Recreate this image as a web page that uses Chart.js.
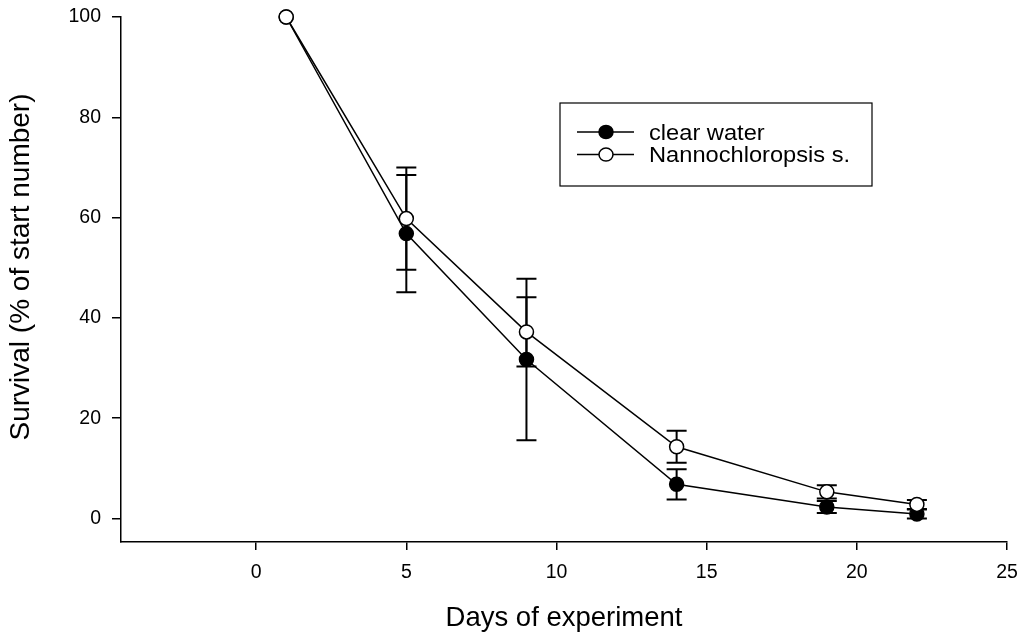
<!DOCTYPE html>
<html lang="en">
<head>
    <meta charset="UTF-8">
    <title>Survival over days of experiment</title>
    <script src="https://cdn.jsdelivr.net/npm/chart.js"></script>
    <style>
        body {
            margin: 0;
            padding: 0;
            background-color: #fff;
        }
    </style>
</head>
<body>
    <canvas id="myChart" width="1023" height="635"></canvas>
    <script>
        // Data
        const days = [1, 5, 9, 14, 19, 22];
        const clearWater = [100, 56.8, 31.7, 6.8, 2.3, 0.9];
        const clearWaterErr = [0, 11.7, 16.1, 3.0, 1.2, 0.9];
        const nanno = [100, 59.8, 37.2, 14.3, 5.3, 2.8];
        const nannoErr = [0, 10.2, 6.9, 3.2, 1.3, 0.9];
        const xTicks = [0, 5, 10, 15, 20, 25];
        const yTicks = [0, 20, 40, 60, 80, 100];
        const yTitle = 'Survival (% of start number)';

        const fontFamily = "'Liberation Sans', Arial, sans-serif";

        function toPoints(xs, ys) {
            return xs.map((x, i) => ({ x: x, y: ys[i] }));
        }

        // draws vertical error bars with caps under the markers
        const errorBars = {
            id: 'errorBars',
            beforeDatasetsDraw(chart) {
                const ctx = chart.ctx;
                const xs = chart.scales.x;
                const ys = chart.scales.y;
                ctx.save();
                ctx.strokeStyle = '#000';
                ctx.lineWidth = 2;
                chart.data.datasets.forEach(ds => {
                    ds.data.forEach((p, i) => {
                        const e = ds.errors[i];
                        if (!e) return;
                        const px = xs.getPixelForValue(p.x);
                        const top = ys.getPixelForValue(p.y + e);
                        const bot = ys.getPixelForValue(p.y - e);
                        ctx.beginPath();
                        ctx.moveTo(px, top);
                        ctx.lineTo(px, bot);
                        ctx.moveTo(px - 10, top);
                        ctx.lineTo(px + 10, top);
                        ctx.moveTo(px - 10, bot);
                        ctx.lineTo(px + 10, bot);
                        ctx.stroke();
                    });
                });
                ctx.restore();
            }
        };

        // boxed legend inside the plot + the y title (sits a bit above the axis centre)
        const boxLegend = {
            id: 'boxLegend',
            afterDraw(chart) {
                const ctx = chart.ctx;
                const a = chart.chartArea;
                const bx = a.left + 439, by = a.top + 86, bw = 312, bh = 83;
                ctx.save();
                ctx.strokeStyle = '#000';
                ctx.lineWidth = 1.2;
                ctx.strokeRect(bx, by, bw, bh);
                chart.data.datasets.forEach((ds, i) => {
                    const cy = by + 29 + i * 22.6;
                    ctx.beginPath();
                    ctx.lineWidth = 1.5;
                    ctx.moveTo(bx + 17, cy);
                    ctx.lineTo(bx + 74, cy);
                    ctx.stroke();
                    ctx.beginPath();
                    ctx.ellipse(bx + 46, cy, 7, 6.5, 0, 0, Math.PI * 2);
                    ctx.fillStyle = ds.pointBackgroundColor;
                    ctx.fill();
                    ctx.stroke();
                    // text is a little wider than the font, as in the figure
                    ctx.save();
                    ctx.translate(bx + 89, cy + 7.7);
                    ctx.scale(1.1, 1);
                    ctx.font = '21.5px ' + fontFamily;
                    ctx.textBaseline = 'alphabetic';
                    ctx.fillStyle = '#000';
                    ctx.fillText(ds.label, 0, 0);
                    ctx.restore();
                });

                ctx.translate(21, a.top + 250);
                ctx.rotate(-Math.PI / 2);
                ctx.font = '28px ' + fontFamily;
                ctx.textAlign = 'center';
                ctx.textBaseline = 'middle';
                ctx.fillStyle = '#000';
                ctx.fillText(yTitle, 0, 0);
                ctx.restore();
            }
        };

        const ctx = document.getElementById('myChart').getContext('2d');
        const myChart = new Chart(ctx, {
            type: 'line',
            data: {
                datasets: [{
                    label: 'clear water',
                    data: toPoints(days, clearWater),
                    errors: clearWaterErr,
                    order: 1,
                    borderColor: '#000',
                    borderWidth: 1.5,
                    pointRadius: 7,
                    pointBorderWidth: 1.5,
                    pointBorderColor: '#000',
                    pointBackgroundColor: '#000',
                    tension: 0,
                    clip: false
                }, {
                    label: 'Nannochloropsis s.',
                    data: toPoints(days, nanno),
                    errors: nannoErr,
                    order: 0,
                    borderColor: '#000',
                    borderWidth: 1.5,
                    pointRadius: 7,
                    pointBorderWidth: 1.5,
                    pointBorderColor: '#000',
                    pointBackgroundColor: '#fff',
                    tension: 0,
                    clip: false
                }]
            },
            options: {
                responsive: false,
                animation: false,
                layout: {
                    padding: { top: 17, right: 16, left: 0, bottom: 0 }
                },
                plugins: {
                    legend: { display: false },
                    tooltip: { enabled: false }
                },
                scales: {
                    x: {
                        type: 'linear',
                        min: -4.5,
                        max: 25,
                        afterFit: s => {
                            s.height = 93;
                            s.paddingLeft = 0;
                            s.paddingRight = 0;
                        },
                        afterBuildTicks: s => { s.ticks = xTicks.map(v => ({ value: v })); },
                        border: { display: true, color: '#000', width: 1.5 },
                        grid: { drawOnChartArea: false, drawTicks: true, tickLength: 8, color: '#000', lineWidth: 1.5 },
                        ticks: {
                            color: '#000',
                            padding: 11,
                            font: { family: fontFamily, size: 19.5 }
                        },
                        title: {
                            display: true,
                            text: 'Days of experiment',
                            color: '#000',
                            font: { family: fontFamily, size: 27.5 },
                            padding: { top: 0, bottom: 0 }
                        }
                    },
                    y: {
                        type: 'linear',
                        min: -4.7,
                        max: 100,
                        afterFit: s => {
                            s.width = 121;
                            s.paddingTop = 0;
                            s.paddingBottom = 0;
                        },
                        afterBuildTicks: s => { s.ticks = yTicks.map(v => ({ value: v })); },
                        border: { display: true, color: '#000', width: 1.5 },
                        grid: { drawOnChartArea: false, drawTicks: true, tickLength: 9, color: '#000', lineWidth: 1.5 },
                        ticks: {
                            color: '#000',
                            padding: 11,
                            font: { family: fontFamily, size: 19.5 }
                        }
                    }
                }
            },
            plugins: [errorBars, boxLegend]
        });
    </script>
</body>
</html>
